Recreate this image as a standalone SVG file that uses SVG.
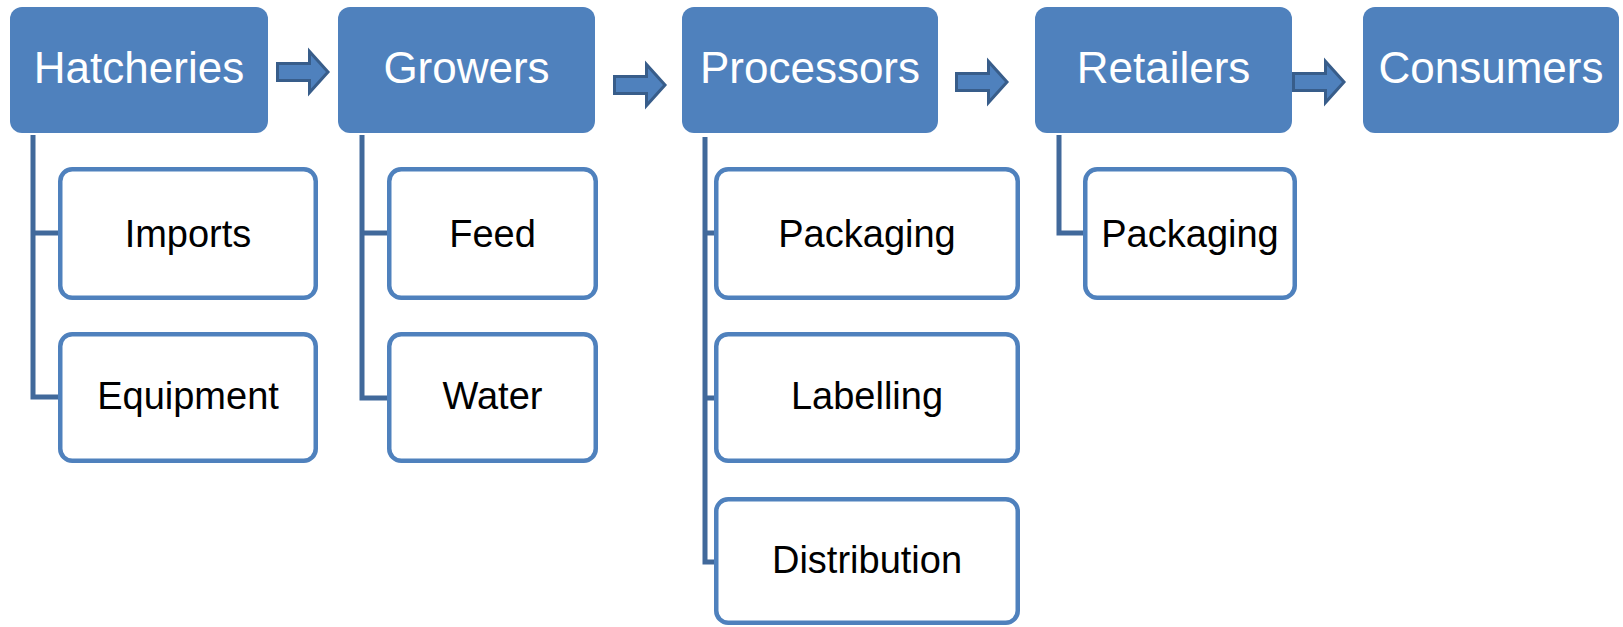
<svg xmlns="http://www.w3.org/2000/svg" width="1623" height="627" viewBox="0 0 1623 627">
  <style>
    .top rect { fill: #4F81BD; }
    .top text { fill: #FFFFFF; font-family: "Liberation Sans", Arial, sans-serif; font-size: 44px; text-anchor: middle; }
    .sub rect { fill: #FFFFFF; stroke: #4F81BD; stroke-width: 4.5; }
    .sub text { fill: #000000; font-family: "Liberation Sans", Arial, sans-serif; font-size: 38px; text-anchor: middle; }
    .conn { fill: none; stroke: #41699B; stroke-width: 5; stroke-linejoin: miter; }
    .arrow { fill: #4F81BD; stroke: #385D8A; stroke-width: 3; stroke-linejoin: miter; }
  </style>
  <defs>
    <path id="arr" d="M1.5,-8.5 H33.5 V-20.5 L52,0 L33.5,20.5 V8.5 H1.5 Z"/>
  </defs>
  <rect width="1623" height="627" fill="#FFFFFF"/>

  <g id="connectors">
    <path class="conn" d="M33,135 V397 H58 M33,233 H58"/>
    <path class="conn" d="M362,135 V398 H387 M362,233 H387"/>
    <path class="conn" d="M705,137 V562 H715 M705,233 H715 M705,398 H715"/>
    <path class="conn" d="M1059,135 V233 H1083"/>
    <use href="#arr" class="arrow" transform="translate(276,72)"/>
    <use href="#arr" class="arrow" transform="translate(613,85)"/>
    <use href="#arr" class="arrow" transform="translate(955,82)"/>
    <use href="#arr" class="arrow" transform="translate(1292,82)"/>
  </g>

  <g id="hatcheries" class="top">
    <rect x="10" y="7" width="258" height="126" rx="12"/>
    <text x="139" y="83" font-size="45">Hatcheries</text>
  </g>
  <g id="growers" class="top">
    <rect x="338" y="7" width="257" height="126" rx="12"/>
    <text x="466.5" y="83">Growers</text>
  </g>
  <g id="processors" class="top">
    <rect x="682" y="7" width="256" height="126" rx="12"/>
    <text x="810" y="83" font-size="43">Processors</text>
  </g>
  <g id="retailers" class="top">
    <rect x="1035" y="7" width="257" height="126" rx="12"/>
    <text x="1163.5" y="83">Retailers</text>
  </g>
  <g id="consumers" class="top">
    <rect x="1363" y="7" width="256" height="126" rx="12"/>
    <text x="1491" y="83">Consumers</text>
  </g>

  <g id="imports" class="sub">
    <rect x="60.25" y="169.25" width="255.5" height="128.5" rx="12"/>
    <text x="188" y="247" font-size="40">Imports</text>
  </g>
  <g id="equipment" class="sub">
    <rect x="60.25" y="334.25" width="255.5" height="126.5" rx="12"/>
    <text x="188" y="409">Equipment</text>
  </g>
  <g id="feed" class="sub">
    <rect x="389.25" y="169.25" width="206.5" height="128.5" rx="12"/>
    <text x="492.5" y="247" font-size="36">Feed</text>
  </g>
  <g id="water" class="sub">
    <rect x="389.25" y="334.25" width="206.5" height="126.5" rx="12"/>
    <text x="492.5" y="409">Water</text>
  </g>
  <g id="packaging-processors" class="sub">
    <rect x="716.25" y="169.25" width="301.5" height="128.5" rx="12"/>
    <text x="867" y="247" font-size="36.5">Packaging</text>
  </g>
  <g id="labelling" class="sub">
    <rect x="716.25" y="334.25" width="301.5" height="126.5" rx="12"/>
    <text x="867" y="409">Labelling</text>
  </g>
  <g id="distribution" class="sub">
    <rect x="716.25" y="499.25" width="301.5" height="123.5" rx="12"/>
    <text x="867" y="573" font-size="41">Distribution</text>
  </g>
  <g id="packaging-retailers" class="sub">
    <rect x="1085.25" y="169.25" width="209.5" height="128.5" rx="12"/>
    <text x="1190" y="247">Packaging</text>
  </g>
</svg>
